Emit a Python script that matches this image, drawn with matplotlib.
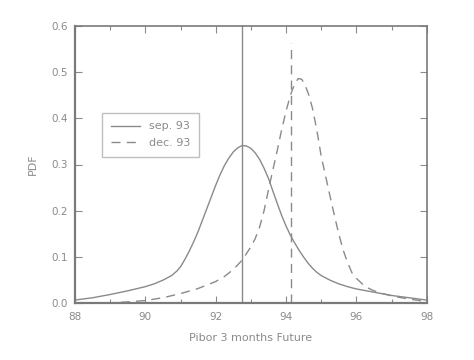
import matplotlib
matplotlib.use("Agg")
import matplotlib.pyplot as plt
from matplotlib.ticker import MultipleLocator

# Data
sep_x = [88.0, 88.5, 89.0, 89.5, 90.0, 90.25, 90.5, 90.75, 90.9, 91.0, 91.125, 91.25,
         91.375, 91.5, 91.625, 91.75, 91.875, 92.0, 92.125, 92.25, 92.375, 92.5, 92.625,
         92.75, 92.875, 93.0, 93.125, 93.25, 93.375, 93.5, 93.625, 93.75, 93.875, 94.0,
         94.125, 94.25, 94.375, 94.5, 94.625, 94.75, 94.875, 95.0, 95.25, 95.5, 95.75,
         96.0, 96.5, 97.0, 97.5, 98.0]
sep_y = [0.007, 0.012, 0.019, 0.027, 0.036, 0.042, 0.050, 0.060, 0.070, 0.079, 0.095, 0.113,
         0.133, 0.155, 0.180, 0.205, 0.230, 0.255, 0.278, 0.298, 0.314, 0.327, 0.336,
         0.341, 0.340, 0.335, 0.325, 0.311, 0.292, 0.270, 0.243, 0.216, 0.190, 0.167,
         0.147, 0.130, 0.114, 0.100, 0.087, 0.076, 0.067, 0.060, 0.050, 0.042, 0.036,
         0.031, 0.024, 0.017, 0.012, 0.007]

dec_x = [88.0, 88.5, 89.0, 89.5, 90.0, 90.5, 91.0, 91.5, 92.0, 92.25, 92.5, 92.75, 93.0,
         93.125, 93.25, 93.375, 93.5, 93.625, 93.75, 93.875, 94.0, 94.125, 94.25, 94.35,
         94.45, 94.55, 94.65, 94.75, 94.875, 95.0, 95.125, 95.25, 95.375, 95.5, 95.625,
         95.75, 95.875, 96.0, 96.25, 96.5, 96.75, 97.0, 97.5, 98.0]
dec_y = [0.000, 0.000, 0.001, 0.003, 0.006, 0.012, 0.021, 0.032, 0.047, 0.058, 0.073, 0.093,
         0.122, 0.140, 0.165, 0.200, 0.245, 0.288, 0.330, 0.375, 0.415, 0.450, 0.475, 0.486,
         0.484, 0.470, 0.450, 0.422, 0.375, 0.318, 0.275, 0.232, 0.190, 0.150, 0.115,
         0.088, 0.066, 0.054, 0.036, 0.027, 0.021, 0.016, 0.009, 0.004]

sep_mark = 92.76
dec_mark = 94.15
dec_mark_top = 0.562

x_ticks = [88, 90, 92, 94, 96, 98]
y_ticks = [0.0, 0.1, 0.2, 0.3, 0.4, 0.5, 0.6]

gray = "#8a8a8a"
dashes = (6.5, 4.5)

fig = plt.figure(figsize=(4.74, 3.6), dpi=100)
ax = fig.add_axes([75 / 474, 1 - 303.3 / 360, (426.7 - 75) / 474, (303.3 - 25.7) / 360])

ax.plot(sep_x, sep_y, color=gray, lw=1.0, label="sep. 93")
ax.plot(dec_x, dec_y, color=gray, lw=1.0, dashes=dashes, label="dec. 93")
ax.plot([sep_mark, sep_mark], [0, 0.6], color=gray, lw=1.0)
ax.plot([dec_mark, dec_mark], [0, dec_mark_top], color=gray, lw=1.0, dashes=dashes)

ax.set_xlim(88, 98)
ax.set_ylim(0, 0.6)
ax.set_xticks(x_ticks)
ax.set_yticks(y_ticks)
ax.set_xticklabels([str(v) for v in x_ticks])
ax.set_yticklabels([f"{v:.1f}" for v in y_ticks])
ax.xaxis.set_minor_locator(MultipleLocator(1))

ax.tick_params(which="both", direction="in", top=True, right=True, colors=gray,
               labelcolor=gray, labelsize=7.5, width=0.8)
ax.tick_params(which="major", length=5)
ax.tick_params(which="minor", length=3)
ax.tick_params(axis="x", pad=6)
ax.tick_params(axis="y", pad=5)

for name, sp in ax.spines.items():
    sp.set_color("#7a7a7a")
    sp.set_linewidth(1.6 if name in ("left", "bottom") else 1.2)

ax.set_xlabel("Pibor 3 months Future", color=gray, fontsize=8, labelpad=8)
ax.set_ylabel("PDF", color=gray, fontsize=8, labelpad=10)

leg = ax.legend(loc="upper left", bbox_to_anchor=(0.062, 0.707), frameon=True,
                fancybox=False, edgecolor="#b0b0b0", fontsize=8, handlelength=2.6,
                borderpad=0.8, labelspacing=0.6, handletextpad=0.8)
for t in leg.get_texts():
    t.set_color(gray)
leg.get_frame().set_linewidth(1.0)

fig.savefig("out.png", dpi=100)
